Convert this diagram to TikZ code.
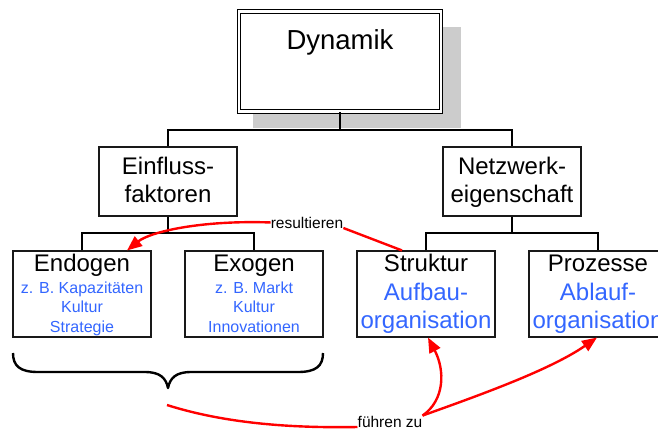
\documentclass[tikz,border=0pt]{standalone}
\usepackage{fontspec}
\setmainfont{Liberation Sans}
\usetikzlibrary{arrows.meta,calc}
\definecolor{txtblue}{RGB}{51,102,255}
\definecolor{shadowgray}{RGB}{204,204,204}
\definecolor{linkred}{RGB}{255,0,0}

\begin{document}
\begin{tikzpicture}[x=1pt,y=-1pt,
  box/.style={draw=black!90, line width=1.1pt, minimum width=138pt, minimum height=69pt, inner sep=0pt},
  leafbox/.style={draw=black!90, line width=1.1pt, minimum width=138pt, minimum height=86pt, inner sep=0pt},
  tree/.style={line width=2.4pt, black},
  title/.style={font=\fontsize{24}{28}\selectfont, anchor=base, inner sep=0pt},
  ex/.style={font=\fontsize{16}{19}\selectfont, text=txtblue, anchor=base, inner sep=0pt},
  big/.style={font=\fontsize{24}{28}\selectfont, text=txtblue, anchor=base, inner sep=0pt},
  note/.style={font=\fontsize{15.5}{18}\selectfont, anchor=base, inner sep=0pt},
  link/.style={linkred, line width=2.4pt},
  tip/.style={-{Triangle[length=15pt,width=12pt]}}
]
\clip (0,0) rectangle (658,429);
\fill[white] (0,0) rectangle (658,429);

% drop shadow of the root box
\fill[shadowgray] (253,27) rectangle (461,128);

% root box with double border
\node[draw=black, fill=white, line width=1pt, double=white, double distance=2.5pt,
      minimum width=202pt, minimum height=100pt, inner sep=0pt] (dyn) at (340,61.5) {};
\node[font=\fontsize{27.5}{32}\selectfont, anchor=base, inner sep=0pt] (dyn-t) at (340,49) {Dynamik};

% second level
\node[box] (einf) at (168,181.5) {};
\node[title] (einf-a) at (168,174) {Einfluss-};
\node[title] (einf-b) at (168,202) {faktoren};

\node[box] (netz) at (512,181.5) {};
\node[title] (netz-a) at (512,174) {Netzwerk-};
\node[title] (netz-b) at (512,202) {eigenschaft};

% third level
\node[leafbox] (endo) at (82,294) {};
\node[title] (endo-t) at (82,271) {Endogen};
\node[ex] (endo-a) at (82,293) {z. B. Kapazitäten};
\node[ex] (endo-b) at (82,312) {Kultur};
\node[ex] (endo-c) at (82,332) {Strategie};

\node[leafbox] (exo) at (254,294) {};
\node[title] (exo-t) at (254,271) {Exogen};
\node[ex] (exo-a) at (254,293) {z. B. Markt};
\node[ex] (exo-b) at (254,312) {Kultur};
\node[ex] (exo-c) at (254,332) {Innovationen};

\node[leafbox] (struk) at (426,294) {};
\node[title] (struk-t) at (426,271) {Struktur};
\node[big] (struk-a) at (426,300) {Aufbau-};
\node[big] (struk-b) at (426,328) {organisation};

\node[leafbox] (proz) at (598,294) {};
\node[title] (proz-t) at (598,271) {Prozesse};
\node[big] (proz-a) at (598,300) {Ablauf-};
\node[big] (proz-b) at (598,328) {organisation};

% tree connectors
\coordinate (bus1) at (340,130);
\coordinate (bus2) at (168,233);
\coordinate (bus3) at (512,233);
\draw[tree] (dyn.south) -- (bus1);
\draw[tree] (einf.north) |- (bus1) -| (netz.north);
\draw[tree] (einf.south) -- (bus2);
\draw[tree] (endo.north) |- (bus2) -| (exo.north);
\draw[tree] (netz.south) -- (bus3);
\draw[tree] (struk.north) |- (bus3) -| (proz.north);

% brace under the influence factors
\draw[line width=2.4pt, line join=round]
  (13,353) .. controls (13,366) and (20,372) .. (38,372) -- (145,372)
  .. controls (160,372) and (166,378) .. (168,388)
  .. controls (170,378) and (176,372) .. (191,372) -- (298,372)
  .. controls (316,372) and (323,366) .. (323,353);

% red annotations
\node[note] (res) at (307,228) {resultieren};
\node[note] (fz) at (390,427) {führen zu};
\coordinate (fzin) at (167,405);

\draw[link,tip] (res.west) .. controls (200,220) and (150,232) .. ($(endo.north)+(45,0)$);
\draw[link] (res.base east) -- ($(struk.north)+(-24,0)$);
\draw[link] (fzin) .. controls (230,425) and (300,428) .. (fz.base west);
\draw[link,tip] (fz.north east) .. controls (445,400) and (445,370) .. ($(struk.south)+(2,0)$);
\draw[link,tip] (fz.north east) .. controls (480,395) and (550,370) .. ($(proz.south)+(-1,0)$);
\end{tikzpicture}
\end{document}
